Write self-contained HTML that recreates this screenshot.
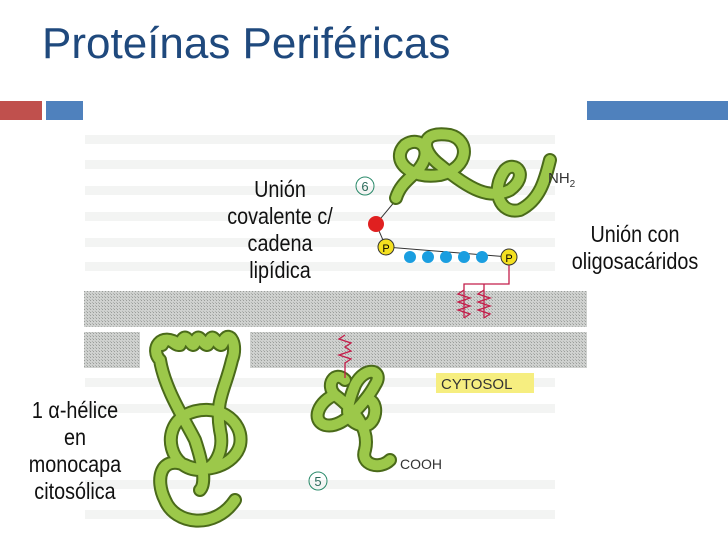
<!DOCTYPE html>
<html><head><meta charset="utf-8"><style>
body{margin:0;width:728px;height:546px;background:#fff;overflow:hidden;position:relative;font-family:"Liberation Sans",sans-serif}
.t{position:absolute;color:#111;text-align:center;font-size:23px;line-height:27px;transform:scaleX(0.86);transform-origin:center top}
</style></head><body>
<div style="position:absolute;left:42px;top:19px;font-size:44px;color:#1f497d;white-space:nowrap">Proteínas Periféricas</div>
<div style="position:absolute;left:0;top:101px;width:42px;height:19px;background:#c0504d"></div>
<div style="position:absolute;left:46px;top:101px;width:37px;height:19px;background:#4f81bd"></div>
<div style="position:absolute;left:587px;top:101px;width:141px;height:19px;background:#4f81bd"></div>
<svg width="728" height="546" style="position:absolute;left:0;top:0">
<defs><pattern id="p" width="3" height="3" patternUnits="userSpaceOnUse"><rect width="3" height="3" fill="#cfd1cf"/><rect width="1" height="1" fill="#9a9d9a"/><rect x="2" y="2" width="1" height="1" fill="#b0b3b0"/></pattern></defs>
<g fill="#f3f4f3">
<rect x="85" y="135" width="470" height="9"/><rect x="85" y="160" width="470" height="9"/><rect x="85" y="186" width="470" height="9"/><rect x="85" y="212" width="470" height="9"/><rect x="85" y="238" width="470" height="9"/><rect x="85" y="262" width="470" height="9"/>
<rect x="85" y="378" width="470" height="9"/><rect x="85" y="404" width="470" height="9"/><rect x="85" y="480" width="470" height="9"/><rect x="85" y="510" width="470" height="9"/>
</g>
<rect x="84" y="291" width="503" height="36" fill="url(#p)"/>
<rect x="84" y="332" width="503" height="36" fill="url(#p)"/>
<rect x="140" y="330" width="110" height="40" fill="#fff"/>
<line x1="376" y1="224" x2="396" y2="200" stroke="#333" stroke-width="1"/>
<line x1="376" y1="224" x2="386" y2="247" stroke="#333" stroke-width="1"/>
<g fill="none" stroke-linecap="round" stroke-linejoin="round">
<g stroke="#4a6a1a" stroke-width="14">
<path id="a" d="M396 198 C400 185,408 180,418 170 C435 150,420 135,405 145 C390 160,410 180,440 175 C470 168,470 140,450 135 C420 130,420 150,440 165 C470 190,490 200,510 190 C530 175,515 160,505 170 C490 190,500 215,520 210 C540 200,545 180,550 160"/>
<path id="c" d="M180 345 C160 330,150 350,160 360 M162 345 C170 330,178 355,182 340 C188 330,192 355,196 340 C200 330,206 355,210 340 C214 330,220 355,224 340 C230 330,238 345,232 360 C225 390,215 400,220 430 C225 450,215 470,200 470 M160 360 C165 390,185 420,195 440 C205 470,205 485,200 490 M200 470 C170 470,160 430,185 415 C215 400,245 420,240 445 C235 465,205 475,185 465 C160 455,155 480,165 500 C175 525,215 530,235 500"/>
<path id="d" d="M345 380 C335 370,325 385,335 395 C355 410,370 430,365 450 C360 465,380 470,390 460 M335 395 C320 400,310 420,325 425 C345 430,370 395,375 385 C385 370,365 365,355 385 C345 410,345 420,360 425 C375 430,380 405,370 400"/>
</g>
<g stroke="#9cc84a" stroke-width="10"><use href="#a"/><use href="#c"/><use href="#d"/></g>
</g>
<g stroke="#c41e4a" stroke-width="1.3" fill="none">
<path d="M509 262 V284 H464 V318"/><path d="M484 284 V318"/>
<path d="M464 290 l-6 4 l12 4 l-12 4 l12 4 l-12 4 l12 4 l-6 4"/>
<path d="M484 290 l-6 4 l12 4 l-12 4 l12 4 l-12 4 l12 4 l-6 4"/>
<path d="M345 335 l-6 4 l12 4 l-6 4 l6 4 l-12 4 l12 4 l-6 4 V378"/>
</g>
<line x1="386" y1="247" x2="509" y2="257" stroke="#333" stroke-width="1"/>
<g fill="#1a9ee0">
<circle cx="410" cy="257" r="6"/><circle cx="428" cy="257" r="6"/><circle cx="446" cy="257" r="6"/><circle cx="464" cy="257" r="6"/><circle cx="482" cy="257" r="6"/>
</g>
<circle cx="376" cy="224" r="8" fill="#e02020"/>
<circle cx="386" cy="247" r="8" fill="#f4e020" stroke="#333"/><text x="386" y="252" font-size="11" text-anchor="middle" font-family="Liberation Sans">P</text>
<circle cx="509" cy="257" r="8" fill="#f4e020" stroke="#333"/><text x="509" y="262" font-size="11" text-anchor="middle" font-family="Liberation Sans">P</text>
<circle cx="365" cy="186" r="9" fill="none" stroke="#2a8a6a"/><text x="365" y="191" font-size="13" fill="#2a6a5a" text-anchor="middle" font-family="Liberation Sans">6</text>
<circle cx="318" cy="481" r="9" fill="none" stroke="#2a8a6a"/><text x="318" y="486" font-size="13" fill="#2a6a5a" text-anchor="middle" font-family="Liberation Sans">5</text>
<text x="548" y="183" font-size="15" fill="#333" font-family="Liberation Sans">NH<tspan font-size="10" dy="4">2</tspan></text>
<text x="400" y="469" font-size="14" fill="#333" font-family="Liberation Sans">COOH</text>
<rect x="436" y="373" width="98" height="20" fill="#f6ee80"/>
<text x="441" y="389" font-size="15" fill="#333" font-family="Liberation Sans">CYTOSOL</text>
</svg>
<div class="t" style="left:205px;top:176px;width:150px">Unión<br>covalente c/<br>cadena<br>lipídica</div>
<div class="t" style="left:545px;top:221px;width:180px">Unión con<br>oligosacáridos</div>
<div class="t" style="left:0;top:397px;width:150px">1 α-hélice<br>en<br>monocapa<br>citosólica</div>
</body></html>
